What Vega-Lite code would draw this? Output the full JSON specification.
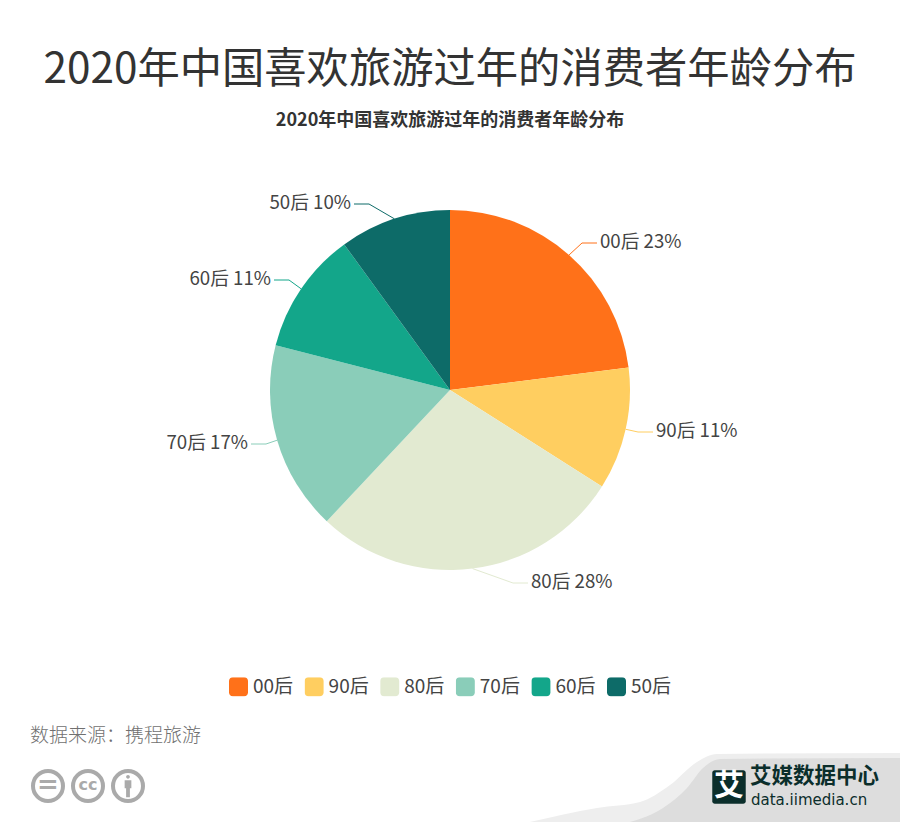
{
"$schema":"https://vega.github.io/schema/vega-lite/v6.json",
"width":900,"height":822,"padding":0,"autosize":{"type":"none"},
"background":"#ffffff",
"data":{"values":[{"layerRow":1}]},
"title":{"text":"2020年中国喜欢旅游过年的消费者年龄分布","subtitle":"2020年中国喜欢旅游过年的消费者年龄分布","anchor":"middle","frame":"group","offset":-131,"font":"Noto Sans CJK SC","fontSize":42.3,"fontWeight":"normal","color":"#333333","subtitleFont":"Noto Sans CJK SC","subtitleFontSize":18,"subtitleFontWeight":"bold","subtitleColor":"#333333","subtitlePadding":20},
"config":{"view":{"stroke":null},"font":"Noto Sans CJK SC"},
"datasets":{
"pie":[{"cat":"00后","value":23,"ord":1},{"cat":"90后","value":11,"ord":2},{"cat":"80后","value":28,"ord":3},{"cat":"70后","value":17,"ord":4},{"cat":"60后","value":11,"ord":5},{"cat":"50后","value":10,"ord":6}],
"back":[{"px":530,"py":822},{"px":597,"py":808},{"px":640,"py":802},{"px":670,"py":785},{"px":697,"py":762},{"px":717,"py":754},{"px":900,"py":753}],
"front":[{"px":630,"py":822},{"px":663,"py":808},{"px":687,"py":788},{"px":703,"py":768},{"px":720,"py":759},{"px":900,"py":758}]
},
"encoding":{
"x":{"type":"quantitative","scale":{"domain":[0,900],"nice":false,"zero":false},"axis":null},
"y":{"type":"quantitative","scale":{"domain":[822,0],"nice":false,"zero":false},"axis":null}
},
"layer":[
{"data":{"name":"back"},"mark":{"type":"area","color":"#eeeeee","interpolate":"monotone"},"encoding":{"x":{"field":"px","type":"quantitative"},"y":{"field":"py","type":"quantitative"},"y2":{"datum":822}}},
{"data":{"name":"front"},"mark":{"type":"area","color":"#dddddd","interpolate":"monotone"},"encoding":{"x":{"field":"px","type":"quantitative"},"y":{"field":"py","type":"quantitative"},"y2":{"datum":822}}},
{"data":{"name":"pie"},
 "mark":{"type":"arc","outerRadius":180,"innerRadius":0},
 "encoding":{
  "x":{"datum":450},"y":{"datum":390},
  "theta":{"field":"value","type":"quantitative","stack":true,"scale":{"domain":[0,100]}},
  "order":{"field":"ord","type":"ordinal"},
  "color":{"field":"cat","type":"nominal","sort":null,
   "scale":{"domain":["00后","90后","80后","70后","60后","50后"],"range":["#FF7119","#FFCE60","#E2EAD1","#8ACDB9","#13A68A","#0D6B68"]},
   "legend":{"title":null,"orient":"none","legendX":229,"legendY":677,"direction":"horizontal","columns":6,"symbolType":"M-0.6,-1H0.6A0.4,0.4 0 0 1 1,-0.6V0.6A0.4,0.4 0 0 1 0.6,1H-0.6A0.4,0.4 0 0 1 -1,0.6V-0.6A0.4,0.4 0 0 1 -0.6,-1Z","symbolSize":361,"symbolStrokeWidth":0,"symbolOpacity":1,"labelFont":"Noto Sans CJK SC","labelFontSize":19,"labelColor":"#444444","labelOffset":5,"columnPadding":10.6,"padding":0,"clipHeight":19}
  }
 }
},
{"data":{"name":"pie"},
 "transform":[
  {"window":[{"op":"sum","field":"value","as":"cum"}],"sort":[{"field":"ord","order":"ascending"}]},
  {"calculate":"(datum.cum-datum.value/2)/100*2*PI","as":"mid"},
  {"calculate":"450+180*sin(datum.mid)","as":"edgeX"},
  {"calculate":"390-180*cos(datum.mid)","as":"edgeY"},
  {"calculate":"{'00后':582,'90后':638,'80后':513,'70后':266,'60后':289,'50后':369}[datum.cat]","as":"elbowX"},
  {"calculate":"{'00后':243,'90后':432,'80后':583,'70后':444,'60后':280,'50后':204}[datum.cat]","as":"elbowY"},
  {"calculate":"datum.elbowX+(datum.mid<PI?15:-15)","as":"endX"},
  {"calculate":"datum.cat+' '+datum.value+'%'","as":"label"}
 ],
 "layer":[
  {"mark":{"type":"rule","strokeWidth":1},"encoding":{"x":{"field":"edgeX","type":"quantitative"},"y":{"field":"edgeY","type":"quantitative"},"x2":{"field":"elbowX"},"y2":{"field":"elbowY"},"color":{"field":"cat","type":"nominal","legend":null}}},
  {"mark":{"type":"rule","strokeWidth":1},"encoding":{"x":{"field":"elbowX","type":"quantitative"},"y":{"field":"elbowY","type":"quantitative"},"x2":{"field":"endX"},"color":{"field":"cat","type":"nominal","legend":null}}},
  {"transform":[{"filter":"datum.mid<PI"}],"mark":{"type":"text","align":"left","baseline":"middle","dx":3,"dy":-1,"fontSize":18.7,"color":"#444444"},"encoding":{"x":{"field":"endX","type":"quantitative"},"y":{"field":"elbowY","type":"quantitative"},"text":{"field":"label"}}},
  {"transform":[{"filter":"datum.mid>=PI"}],"mark":{"type":"text","align":"right","baseline":"middle","dx":-3,"dy":-1,"fontSize":18.7,"color":"#444444"},"encoding":{"x":{"field":"endX","type":"quantitative"},"y":{"field":"elbowY","type":"quantitative"},"text":{"field":"label"}}}
 ]
},
{"mark":{"type":"text","align":"left","baseline":"middle","fontSize":19,"fontWeight":300,"color":"#707070"},"encoding":{"x":{"datum":30},"y":{"datum":736},"text":{"value":"数据来源：携程旅游"}}},
{"mark":{"type":"point","filled":false,"stroke":"#aaaaaa","strokeWidth":4,"size":900,"opacity":1},"encoding":{"x":{"datum":48},"y":{"datum":786}}},
{"mark":{"type":"point","filled":false,"stroke":"#aaaaaa","strokeWidth":4,"size":900,"opacity":1},"encoding":{"x":{"datum":88},"y":{"datum":786}}},
{"mark":{"type":"point","filled":false,"stroke":"#aaaaaa","strokeWidth":4,"size":900,"opacity":1},"encoding":{"x":{"datum":128},"y":{"datum":786}}},
{"mark":{"type":"text","align":"center","baseline":"middle","fontSize":26,"fontWeight":"bold","color":"#aaaaaa","font":"DejaVu Sans"},"encoding":{"x":{"datum":48},"y":{"datum":785},"text":{"value":"="}}},
{"mark":{"type":"text","align":"center","baseline":"middle","fontSize":16,"fontWeight":"bold","color":"#aaaaaa","font":"DejaVu Sans"},"encoding":{"x":{"datum":88},"y":{"datum":785},"text":{"value":"cc"}}},
{"mark":{"type":"point","filled":true,"fill":"#aaaaaa","strokeWidth":0,"opacity":1,"size":500,"shape":"M-0.17,-0.82A0.17,0.17 0 1 1 0.17,-0.82A0.17,0.17 0 1 1 -0.17,-0.82ZM-0.3,-0.52H0.3V0.2H0.17V1H-0.17V0.2H-0.3Z"},"encoding":{"x":{"datum":128},"y":{"datum":786}}},
{"mark":{"type":"point","filled":true,"fill":"#0B2E2B","strokeWidth":0,"opacity":1,"size":1120,"shape":"M-0.85,-1H0.85A0.15,0.15 0 0 1 1,-0.85V0.85A0.15,0.15 0 0 1 0.85,1H-0.85A0.15,0.15 0 0 1 -1,0.85V-0.85A0.15,0.15 0 0 1 -0.85,-1Z"},"encoding":{"x":{"datum":729},"y":{"datum":787}}},
{"mark":{"type":"text","align":"center","baseline":"middle","fontSize":30,"fontWeight":"bold","color":"#ffffff"},"encoding":{"x":{"datum":729},"y":{"datum":786},"text":{"value":"艾"}}},
{"mark":{"type":"text","align":"left","baseline":"middle","fontSize":21.5,"fontWeight":"bold","color":"#0B2E2B"},"encoding":{"x":{"datum":750},"y":{"datum":777},"text":{"value":"艾媒数据中心"}}},
{"mark":{"type":"text","align":"left","baseline":"middle","fontSize":15,"color":"#0B2E2B","font":"DejaVu Sans"},"encoding":{"x":{"datum":751},"y":{"datum":800},"text":{"value":"data.iimedia.cn"}}}
]
}
